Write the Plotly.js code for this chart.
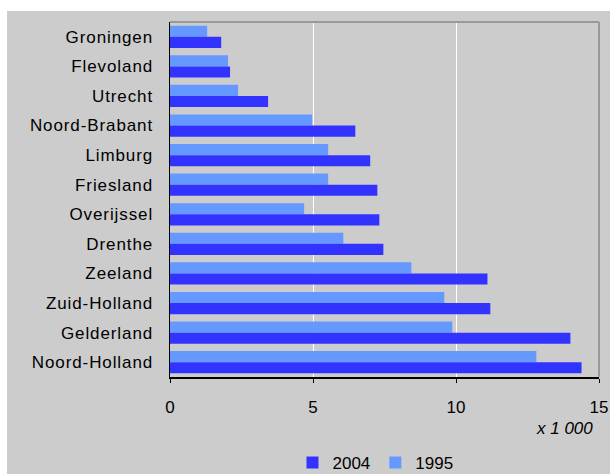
<!DOCTYPE html>
<html>
<head>
<meta charset="utf-8">
<script src="https://cdn.plot.ly/plotly-3.0.1.min.js"></script>
<style>
html,body{margin:0;padding:0;background:#fff;width:610px;height:474px;overflow:hidden;}
#chart{position:absolute;left:7px;top:11px;width:603px;height:463px;}
#chart .ytick text{letter-spacing:0.9px;}
</style>
</head>
<body>
<div id="chart"></div>
<script>
const provinces = ["Groningen","Flevoland","Utrecht","Noord-Brabant","Limburg","Friesland","Overijssel","Drenthe","Zeeland","Zuid-Holland","Gelderland","Noord-Holland"];
const values1995 = [1.30, 2.03, 2.38, 4.97, 5.53, 5.53, 4.69, 6.06, 8.44, 9.59, 9.87, 12.81];
const values2004 = [1.79, 2.10, 3.43, 6.48, 7.00, 7.25, 7.32, 7.46, 11.10, 11.20, 14.00, 14.39];
const xTicks = [0, 5, 10, 15];
const unitLabel = "x 1 000";

const font = "Arial";

const data = [
  {type:"bar", orientation:"h", name:"1995", y:provinces, x:values1995, marker:{color:"#6699FF"}},
  {type:"bar", orientation:"h", name:"2004", y:provinces, x:values2004, marker:{color:"#3333FF"}}
];

const layout = {
  width:603, height:463,
  margin:{l:163, r:11, t:11, b:97, autoexpand:false},
  paper_bgcolor:"#CCCCCC",
  plot_bgcolor:"#CCCCCC",
  barmode:"group",
  bargap:0.25,
  bargroupgap:0,
  showlegend:true,
  legend:{orientation:"h", x:0.479, xanchor:"center", y:-0.242, yanchor:"middle",
          traceorder:"reversed", font:{family:font, size:17, color:"#000"}, bgcolor:"rgba(0,0,0,0)"},
  xaxis:{range:[0,15], tickvals:xTicks, ticktext:xTicks.map(String), showgrid:true, gridcolor:"#FFFFFF", gridwidth:1,
         zeroline:false, showline:true, linecolor:"#000", linewidth:1.5, ticks:"outside", ticklen:4, tickcolor:"#000",
         tickfont:{family:font, size:17, color:"#000"}, ticklabelstandoff:10, automargin:false, fixedrange:true},
  yaxis:{type:"category", autorange:"reversed", showgrid:false, zeroline:false, showline:true, linecolor:"#000", linewidth:1.5,
         ticks:"", tickfont:{family:font, size:17, color:"#000"}, ticklabelstandoff:12, automargin:false, fixedrange:true},
  shapes:[
    {type:"line", xref:"paper", yref:"paper", x0:0, x1:1, y0:1, y1:1, line:{color:"#999999", width:2}},
    {type:"line", xref:"paper", yref:"paper", x0:1, x1:1, y0:0, y1:1, line:{color:"#999999", width:2}}
  ],
  annotations:[
    {text:unitLabel, xref:"paper", yref:"paper", x:0.99, xanchor:"right", y:-0.146, yanchor:"middle", showarrow:false,
     font:{family:font, size:17, color:"#000", style:"italic"}}
  ]
};

Plotly.newPlot("chart", data, layout, {displayModeBar:false, staticPlot:true});
</script>
</body>
</html>
